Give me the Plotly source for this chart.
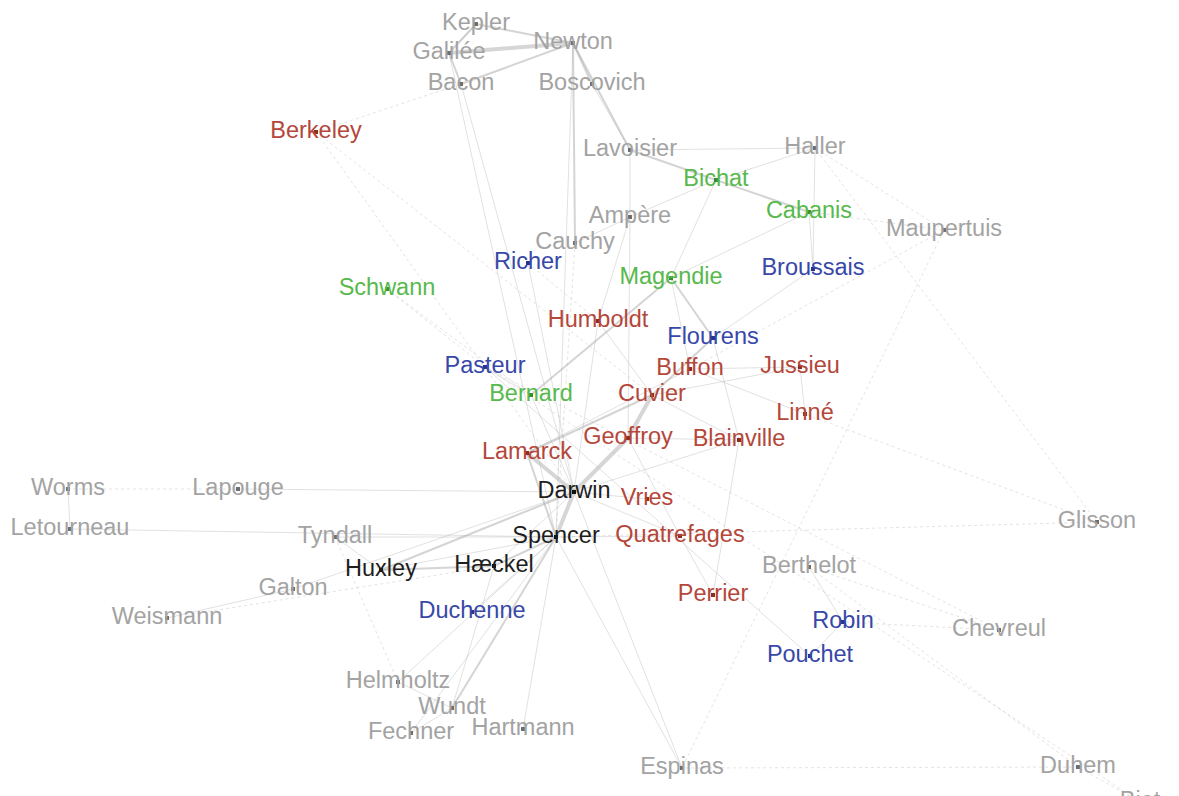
import plotly.graph_objects as go

# ---- nodes (name, x, y in layout units, group) ----
names = ["Kepler", "Galilée", "Newton", "Bacon", "Boscovich", "Berkeley", "Lavoisier", "Haller",
         "Bichat", "Cabanis", "Ampère", "Cauchy", "Maupertuis", "Richer", "Magendie", "Broussais",
         "Schwann", "Humboldt", "Flourens", "Pasteur", "Buffon", "Jussieu", "Bernard", "Cuvier",
         "Linné", "Geoffroy", "Blainville", "Lamarck", "Worms", "Lapouge", "Darwin", "Vries",
         "Letourneau", "Tyndall", "Spencer", "Quatrefages", "Glisson", "Huxley", "Hæckel",
         "Berthelot", "Galton", "Perrier", "Weismann", "Duchenne", "Robin", "Chevreul", "Pouchet",
         "Helmholtz", "Wundt", "Fechner", "Hartmann", "Espinas", "Duhem", "Biot"]
node_x = [476, 449, 573, 461, 592, 316, 630, 815,
          716, 809, 630, 575, 944, 528, 671, 813,
          387, 598, 713, 485, 690, 800, 531, 652,
          805, 628, 739, 527, 68, 238, 574, 647,
          70, 335, 556, 680, 1097, 381, 494,
          809, 293, 713, 167, 472, 843, 999, 810,
          398, 452, 411, 523, 682, 1078, 1140]
node_y = [24, 53, 43, 84, 84, 132, 150, 148,
          180, 212, 217, 243, 230, 263, 278, 269,
          289, 321, 338, 367, 369, 367, 395, 395,
          414, 438, 440, 453, 489, 489, 492, 499,
          529, 537, 537, 536, 522, 570, 566,
          567, 589, 595, 618, 612, 622, 630, 656,
          682, 708, 733, 729, 768, 767, 802]
groups = ["g", "g", "g", "g", "g", "r", "g", "g",
          "v", "v", "g", "g", "g", "b", "v", "b",
          "v", "r", "b", "b", "r", "r", "v", "r",
          "r", "r", "r", "r", "g", "g", "k", "r",
          "g", "g", "k", "r", "g", "k", "k",
          "g", "g", "r", "g", "b", "b", "g", "b",
          "g", "g", "g", "g", "g", "g", "g"]

# ---- edges by strength ----
edges_strong = [("Galilée", "Newton"), ("Darwin", "Spencer"), ("Darwin", "Geoffroy"),
                ("Geoffroy", "Cuvier"), ("Darwin", "Lamarck")]
edges_medium = [("Kepler", "Galilée"), ("Bacon", "Newton"), ("Kepler", "Newton"),
                ("Newton", "Lavoisier"), ("Lavoisier", "Bichat"), ("Bichat", "Cabanis"),
                ("Spencer", "Hæckel"), ("Hæckel", "Huxley"), ("Huxley", "Darwin"),
                ("Cuvier", "Flourens"), ("Cuvier", "Lamarck"), ("Spencer", "Lamarck"),
                ("Magendie", "Flourens"), ("Bernard", "Magendie"), ("Spencer", "Wundt"),
                ("Galilée", "Bacon"), ("Newton", "Boscovich"), ("Newton", "Cauchy")]
edges_thin = [("Lavoisier", "Haller"), ("Haller", "Bichat"), ("Haller", "Broussais"),
              ("Bichat", "Magendie"), ("Cabanis", "Magendie"), ("Ampère", "Cauchy"),
              ("Lavoisier", "Ampère"), ("Ampère", "Geoffroy"), ("Newton", "Spencer"),
              ("Bacon", "Darwin"), ("Galilée", "Spencer"), ("Kepler", "Galilée"),
              ("Buffon", "Jussieu"), ("Jussieu", "Linné"), ("Buffon", "Linné"),
              ("Cuvier", "Blainville"), ("Geoffroy", "Blainville"), ("Blainville", "Perrier"),
              ("Geoffroy", "Quatrefages"), ("Quatrefages", "Perrier"), ("Darwin", "Vries"),
              ("Darwin", "Quatrefages"), ("Humboldt", "Cuvier"), ("Humboldt", "Darwin"),
              ("Pasteur", "Bernard"), ("Pasteur", "Pouchet"), ("Robin", "Pouchet"),
              ("Berthelot", "Robin"), ("Huxley", "Tyndall"), ("Tyndall", "Spencer"),
              ("Galton", "Darwin"), ("Galton", "Weismann"), ("Letourneau", "Spencer"),
              ("Worms", "Letourneau"), ("Spencer", "Helmholtz"), ("Spencer", "Hartmann"),
              ("Spencer", "Espinas"), ("Spencer", "Fechner"), ("Darwin", "Espinas"),
              ("Huxley", "Spencer"), ("Hæckel", "Darwin"), ("Duchenne", "Spencer"),
              ("Bernard", "Darwin"), ("Richer", "Darwin"), ("Magendie", "Buffon"),
              ("Flourens", "Broussais"), ("Cabanis", "Broussais"), ("Bichat", "Ampère"),
              ("Boscovich", "Lavoisier"), ("Lapouge", "Darwin"), ("Helmholtz", "Wundt"),
              ("Wundt", "Fechner"), ("Hæckel", "Wundt"), ("Cuvier", "Jussieu"),
              ("Lamarck", "Buffon"), ("Darwin", "Blainville"), ("Spencer", "Quatrefages"),
              ("Humboldt", "Ampère"), ("Flourens", "Blainville")]
edges_dashed = [("Cabanis", "Maupertuis"), ("Haller", "Maupertuis"), ("Berkeley", "Darwin"),
                ("Berkeley", "Cuvier"), ("Schwann", "Bernard"), ("Schwann", "Pasteur"),
                ("Glisson", "Haller"), ("Glisson", "Spencer"), ("Chevreul", "Berthelot"),
                ("Chevreul", "Pasteur"), ("Duhem", "Berthelot"), ("Duhem", "Espinas"),
                ("Biot", "Pasteur"), ("Maupertuis", "Buffon"), ("Maupertuis", "Espinas"),
                ("Lapouge", "Worms"), ("Weismann", "Hæckel"), ("Richer", "Humboldt"),
                ("Cauchy", "Spencer"), ("Berkeley", "Bacon"), ("Glisson", "Linné"),
                ("Biot", "Duhem"), ("Chevreul", "Robin"), ("Tyndall", "Helmholtz")]

group_colors = {"g": "#a3a3a3", "r": "#b4473a", "v": "#58b94c", "b": "#3848a8", "k": "#1e1e1e"}
dot_colors = {"g": "#6e6e6e", "r": "#8a2e22", "v": "#3a8a30", "b": "#28338a", "k": "#111111"}

pos = {n: (x, y) for n, x, y in zip(names, node_x, node_y)}


def edge_xy(edge_list):
    xs, ys = [], []
    for a, b in edge_list:
        xs += [pos[a][0], pos[b][0], None]
        ys += [pos[a][1], pos[b][1], None]
    return xs, ys


fig = go.Figure()
for lst, width, color, dash in [
    (edges_dashed, 1, "rgba(185,185,185,0.4)", "dot"),
    (edges_thin, 1, "rgba(175,175,175,0.38)", "solid"),
    (edges_medium, 2, "rgba(170,170,170,0.5)", "solid"),
    (edges_strong, 4, "rgba(180,180,180,0.55)", "solid"),
]:
    ex, ey = edge_xy(lst)
    fig.add_trace(go.Scatter(x=ex, y=ey, mode="lines", hoverinfo="skip",
                             line=dict(width=width, color=color, dash=dash), showlegend=False))

fig.add_trace(go.Scatter(
    x=node_x, y=node_y, mode="markers+text", text=names, textposition="middle center",
    textfont=dict(family="Liberation Sans, Arial", size=23.5, color=[group_colors[g] for g in groups]),
    marker=dict(size=4, color=[dot_colors[g] for g in groups], symbol="square"),
    hoverinfo="text", showlegend=False))

fig.update_layout(
    width=1179, height=796, margin=dict(l=0, r=0, t=0, b=0),
    paper_bgcolor="white", plot_bgcolor="white",
    xaxis=dict(range=[0, 1179], visible=False),
    yaxis=dict(range=[796, 0], visible=False),
)
fig.write_html("out.html", config={"displayModeBar": False},
               post_script="document.body.style.margin='0';document.body.style.overflow='hidden';")
